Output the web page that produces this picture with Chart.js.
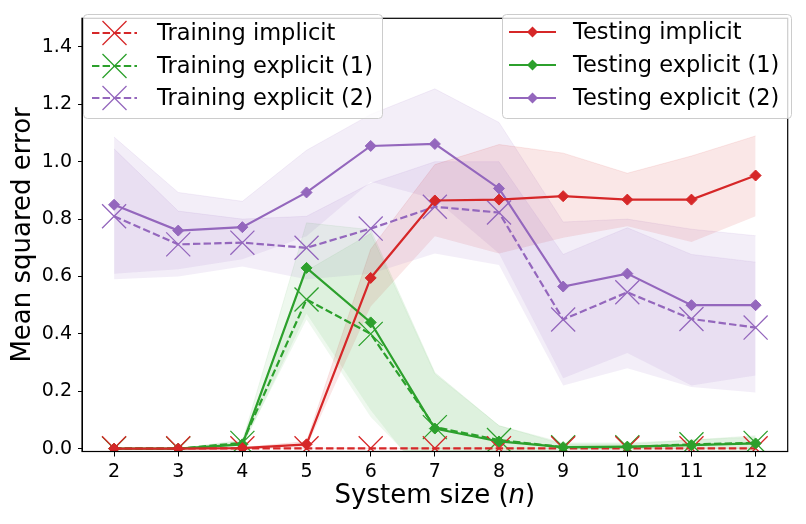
<!DOCTYPE html>
<html>
<head>
<meta charset="utf-8">
<script src="https://cdn.jsdelivr.net/npm/chart.js@4/dist/chart.umd.min.js"></script>
<style>
  body { margin: 0; background: #fff; }
  canvas { display: block; }
</style>
</head>
<body>
<canvas id="mseChart" width="806" height="524"></canvas>
<script>
// ---------------- DATA ----------------
const systemSizes = [2, 3, 4, 5, 6, 7, 8, 9, 10, 11, 12];
const yTicks = [0, 0.2, 0.4, 0.6, 0.8, 1.0, 1.2, 1.4];

const trainImplicit   = [0.001, 0.001, 0.001, 0.001, 0.001, 0.001, 0.001, 0.001, 0.001, 0.001, 0.001];
const trainImplicitLo = [0, 0, 0, 0, 0, 0, 0, 0, 0, 0, 0];
const trainImplicitHi = [0.002, 0.002, 0.002, 0.002, 0.002, 0.002, 0.002, 0.002, 0.002, 0.002, 0.002];

const trainExp1   = [0.0, 0.0, 0.02, 0.52, 0.40, 0.075, 0.03, 0.005, 0.005, 0.015, 0.02];
const trainExp1Lo = [0.0, 0.0, 0.01, 0.45, 0.11, -0.12, -0.02, -0.005, -0.005, 0.0, 0.0];
const trainExp1Hi = [0.0, 0.0, 0.03, 0.62, 0.75, 0.26, 0.08, 0.015, 0.015, 0.03, 0.04];

const trainExp2   = [0.81, 0.712, 0.718, 0.70, 0.767, 0.843, 0.823, 0.45, 0.545, 0.452, 0.422];
const trainExp2Lo = [0.59, 0.60, 0.635, 0.59, 0.61, 0.68, 0.64, 0.22, 0.28, 0.215, 0.196];
const trainExp2Hi = [1.045, 0.828, 0.80, 0.81, 0.925, 1.0, 1.0, 0.677, 0.77, 0.677, 0.65];

const testImplicit   = [0.0, 0.0, 0.002, 0.015, 0.595, 0.865, 0.868, 0.880, 0.868, 0.868, 0.952];
const testImplicitLo = [0.0, 0.0, 0.0, 0.005, 0.495, 0.74, 0.68, 0.735, 0.775, 0.72, 0.81];
const testImplicitHi = [0.0, 0.0, 0.004, 0.025, 0.695, 0.99, 1.06, 1.03, 0.96, 1.02, 1.09];

const testExp1   = [0.0, 0.0, 0.015, 0.63, 0.44, 0.07, 0.025, 0.005, 0.007, 0.012, 0.018];
const testExp1Lo = [0.0, 0.0, 0.005, 0.47, 0.134, -0.15, -0.03, -0.005, -0.005, -0.005, -0.01];
const testExp1Hi = [0.0, 0.0, 0.025, 0.787, 0.763, 0.265, 0.08, 0.02, 0.02, 0.03, 0.045];

const testExp2   = [0.85, 0.76, 0.772, 0.893, 1.055, 1.062, 0.907, 0.565, 0.61, 0.50, 0.50];
const testExp2Lo = [0.61, 0.625, 0.66, 0.74, 0.93, 0.87, 0.68, 0.245, 0.333, 0.22, 0.255];
const testExp2Hi = [1.086, 0.893, 0.862, 1.04, 1.165, 1.254, 1.137, 0.79, 0.80, 0.765, 0.742];

const trainLabels = ['Training implicit', 'Training explicit (1)', 'Training explicit (2)'];
const testLabels = ['Testing implicit', 'Testing explicit (1)', 'Testing explicit (2)'];

// ---------------- STYLE ----------------
const RED = '#d62728', GREEN = '#2ca02c', PURPLE = '#9467bd';
const FONT = "'DejaVu Sans', sans-serif";
const DASH = [7.4, 3.2];

function rgba(hex, a) {
  const n = parseInt(hex.slice(1), 16);
  return `rgba(${n >> 16}, ${(n >> 8) & 255}, ${n & 255}, ${a})`;
}

function pts(values) {
  return systemSizes.map((x, i) => ({ x: x, y: values[i] }));
}

// ---------------- DATASETS ----------------
const datasets = [];

function addBand(lo, hi, color, alpha) {
  const loIndex = datasets.length;
  datasets.push({
    data: pts(lo), borderWidth: 0, pointRadius: 0, fill: false, order: 10
  });
  datasets.push({
    data: pts(hi), borderWidth: 1, borderColor: rgba(color, alpha * 0.9),
    backgroundColor: rgba(color, alpha), pointRadius: 0, fill: loIndex, order: 10
  });
}

function addTrain(label, values, color) {
  datasets.push({
    label: label, data: pts(values), borderColor: color, borderWidth: 2.2,
    borderDash: DASH, pointStyle: 'crossRot', pointRadius: 17,
    pointBorderWidth: 1.3, pointBorderColor: color, pointBackgroundColor: color,
    fill: false, order: 2, clip: 0
  });
}

function addTest(label, values, color) {
  datasets.push({
    label: label, data: pts(values), borderColor: color, borderWidth: 2.2,
    pointStyle: 'rectRot', pointRadius: 5.5, pointBorderWidth: 1,
    pointBorderColor: color, pointBackgroundColor: color, fill: false, order: 1
  });
}

addBand(trainImplicitLo, trainImplicitHi, RED, 0.11);
addBand(trainExp1Lo, trainExp1Hi, GREEN, 0.08);
addBand(trainExp2Lo, trainExp2Hi, PURPLE, 0.11);
addBand(testImplicitLo, testImplicitHi, RED, 0.11);
addBand(testExp1Lo, testExp1Hi, GREEN, 0.08);
addBand(testExp2Lo, testExp2Hi, PURPLE, 0.11);

addTrain(trainLabels[0], trainImplicit, RED);
addTrain(trainLabels[1], trainExp1, GREEN);
addTrain(trainLabels[2], trainExp2, PURPLE);
addTest(testLabels[0], testImplicit, RED);
addTest(testLabels[1], testExp1, GREEN);
addTest(testLabels[2], testExp2, PURPLE);

// ---------------- PLUGINS ----------------
// frame around the plot area, like matplotlib spines
const framePlugin = {
  id: 'frame',
  afterDatasetsDraw(chart) {
    const { ctx, chartArea: a } = chart;
    ctx.save();
    ctx.strokeStyle = '#000';
    ctx.lineWidth = 1.2;
    ctx.strokeRect(a.left, a.top, a.right - a.left, a.bottom - a.top);
    ctx.restore();
  }
};

// x-axis title with italic n
const xTitlePlugin = {
  id: 'xTitle',
  afterDraw(chart) {
    const ctx = chart.ctx;
    const a = chart.chartArea;
    const parts = [['System size (', 'normal'], ['n', 'italic'], [')', 'normal']];
    ctx.save();
    ctx.fillStyle = '#000';
    ctx.textBaseline = 'alphabetic';
    let total = 0;
    parts.forEach(p => { ctx.font = `${p[1]} 26px ${FONT}`; total += ctx.measureText(p[0]).width; });
    let x = (a.left + a.right) / 2 - total / 2;
    parts.forEach(p => {
      ctx.font = `${p[1]} 26px ${FONT}`;
      ctx.fillText(p[0], x, 503);
      x += ctx.measureText(p[0]).width;
    });
    ctx.restore();
  }
};

// two matplotlib style legend boxes
function drawLegendBox(ctx, box, labels, colors, training) {
  ctx.save();
  ctx.beginPath();
  ctx.roundRect(box.x, box.y, box.w, box.h, 4);
  ctx.fillStyle = 'rgba(255,255,255,0.8)';
  ctx.fill();
  ctx.strokeStyle = '#cccccc';
  ctx.lineWidth = 1;
  ctx.stroke();

  labels.forEach((label, i) => {
    const y = box.rowY[i];
    ctx.strokeStyle = colors[i];
    ctx.lineWidth = 2.2;
    ctx.setLineDash(training ? DASH : []);
    ctx.beginPath();
    ctx.moveTo(box.lineX0, y);
    ctx.lineTo(box.lineX1, y);
    ctx.stroke();
    ctx.setLineDash([]);
    const mx = (box.lineX0 + box.lineX1) / 2;
    if (training) {
      ctx.lineWidth = 1.3;
      ctx.beginPath();
      ctx.moveTo(mx - 12, y - 12); ctx.lineTo(mx + 12, y + 12);
      ctx.moveTo(mx - 12, y + 12); ctx.lineTo(mx + 12, y - 12);
      ctx.stroke();
    } else {
      ctx.fillStyle = colors[i];
      ctx.beginPath();
      ctx.moveTo(mx, y - 5.5); ctx.lineTo(mx + 5.5, y);
      ctx.lineTo(mx, y + 5.5); ctx.lineTo(mx - 5.5, y);
      ctx.closePath();
      ctx.fill();
    }
    ctx.fillStyle = '#000';
    ctx.font = `22.5px ${FONT}`;
    ctx.textBaseline = 'middle';
    ctx.fillText(label, box.textX, y + 1);
  });
  ctx.restore();
}

const legendPlugin = {
  id: 'twoLegends',
  afterDraw(chart) {
    const colors = [RED, GREEN, PURPLE];
    drawLegendBox(chart.ctx, {
      x: 83.5, y: 14.5, w: 299, h: 104, rowY: [33, 66, 98],
      lineX0: 92, lineX1: 137, textX: 157
    }, trainLabels, colors, true);
    drawLegendBox(chart.ctx, {
      x: 502.5, y: 14.5, w: 289, h: 104, rowY: [32, 65, 98],
      lineX0: 509, lineX1: 556, textX: 573
    }, testLabels, colors, false);
  }
};

// ---------------- CHART ----------------
new Chart(document.getElementById('mseChart'), {
  type: 'line',
  data: { datasets: datasets },
  plugins: [framePlugin, xTitlePlugin, legendPlugin],
  options: {
    responsive: false,
    animation: false,
    layout: { padding: { left: 0, right: 13, top: 12, bottom: 0 } },
    plugins: {
      legend: { display: false },
      tooltip: { enabled: false }
    },
    elements: { line: { tension: 0 } },
    scales: {
      x: {
        type: 'linear',
        min: 1.5,
        max: 12.5,
        afterBuildTicks: s => { s.ticks = systemSizes.map(v => ({ value: v })); },
        afterFit: s => { s.height = 72.5; },
        grid: { drawOnChartArea: false, tickLength: 5, color: '#000' },
        border: { color: '#000' },
        ticks: { color: '#000', padding: 4, font: { family: FONT, size: 19 } }
      },
      y: {
        min: -0.01,
        max: 1.5,
        afterBuildTicks: s => { s.ticks = yTicks.map(v => ({ value: v })); },
        afterFit: s => { s.width = 82; },
        grid: { drawOnChartArea: false, tickLength: 4, color: '#000' },
        border: { color: '#000' },
        ticks: {
          color: '#000', padding: 6, font: { family: FONT, size: 19 },
          callback: v => v.toFixed(1)
        },
        title: {
          display: true, text: 'Mean squared error', color: '#000',
          font: { family: FONT, size: 26 }, padding: { top: 8, bottom: 8 }
        }
      }
    }
  }
});
</script>
</body>
</html>
